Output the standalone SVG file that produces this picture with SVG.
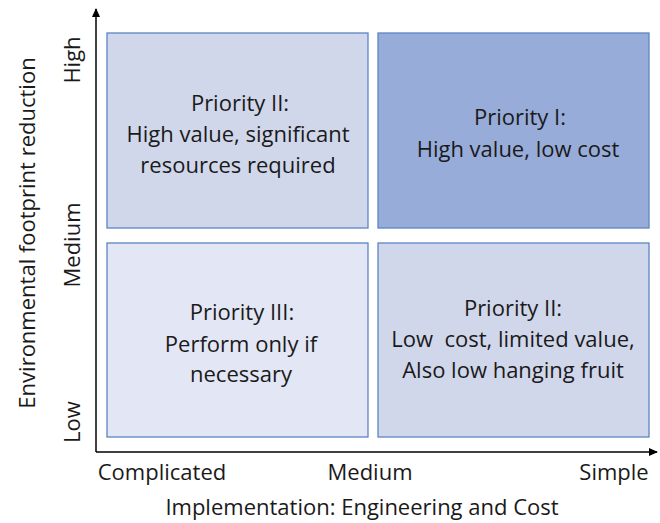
<svg xmlns="http://www.w3.org/2000/svg" width="660" height="523" viewBox="0 0 660 523">
<style>
text{font-family:"Open Sans","Noto Sans",sans-serif;font-size:22px;fill:#1a1a1a;text-anchor:middle;white-space:pre}
.box{stroke:#5b86c4;stroke-width:1.3}
.ax{stroke:#000;stroke-width:1.5;fill:none}
</style>
<defs>
<marker id="ah" markerWidth="10" markerHeight="10" refX="8" refY="5" orient="auto" markerUnits="userSpaceOnUse">
<path d="M0,1 L9,5 L0,9 Z" fill="#000"/>
</marker>
</defs>
<rect width="660" height="523" fill="#fff"/>
<g id="axes">
<path class="ax" d="M96,452 V9" marker-end="url(#ah)"/>
<path class="ax" d="M96,452 H657" marker-end="url(#ah)"/>
</g>
<g id="q-tl">
<rect class="box" x="107" y="33" width="261" height="195" fill="#d1d7eb"/>
<text x="240" y="111">Priority II:</text>
<text x="238" y="142">High value, significant</text>
<text x="238" y="173">resources required</text>
</g>
<g id="q-tr">
<rect class="box" x="378" y="33" width="271" height="195" fill="#98acd9"/>
<text x="520" y="125">Priority I:</text>
<text x="518" y="157">High value, low cost</text>
</g>
<g id="q-bl">
<rect class="box" x="107" y="243" width="261" height="194" fill="#e3e6f4"/>
<text x="242" y="320">Priority III:</text>
<text x="241" y="352">Perform only if</text>
<text x="241" y="382">necessary</text>
</g>
<g id="q-br">
<rect class="box" x="378" y="243" width="271" height="194" fill="#d1d7eb"/>
<text x="513" y="316">Priority II:</text>
<text x="513" y="347">Low  cost, limited value,</text>
<text x="513" y="378">Also low hanging fruit</text>
</g>
<g id="labels">
<text x="162" y="480">Complicated</text>
<text x="370" y="480">Medium</text>
<text x="614" y="480">Simple</text>
<text x="362" y="515">Implementation: Engineering and Cost</text>
<text transform="translate(35,233) rotate(-90)">Environmental footprint reduction</text>
<text transform="translate(80,60) rotate(-90)">High</text>
<text transform="translate(80,245) rotate(-90)">Medium</text>
<text transform="translate(80,422) rotate(-90)">Low</text>
</g>
</svg>
